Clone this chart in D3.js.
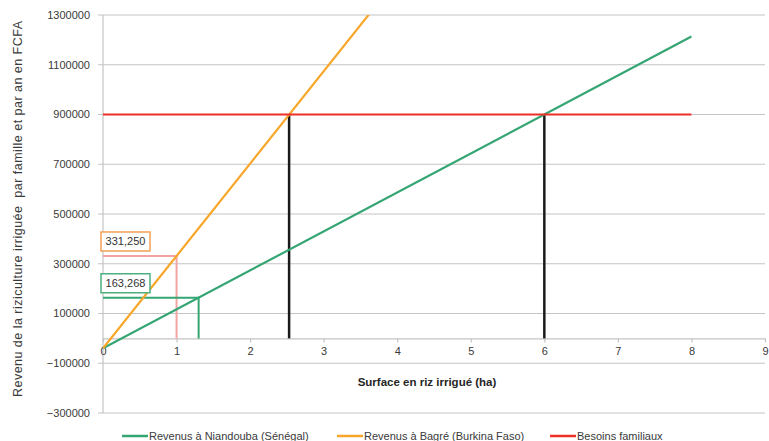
<!DOCTYPE html>
<html><head><meta charset="utf-8">
<script src="https://cdn.jsdelivr.net/npm/d3@7"></script>
<style>
body{margin:0;background:#fff;}
svg{font-family:"Liberation Sans",Arial,sans-serif;}
</style></head>
<body><svg id="c" width="769" height="441"></svg>
<script>
// ---- data ----
const xTicks = [0,1,2,3,4,5,6,7,8,9];
const yTicks = [-300000,-100000,100000,300000,500000,700000,900000,1100000,1300000];
const niandoubaX = [0, 8];
const niandoubaY = [-40000, 1213333];
const bagreX = [0, 4];
const bagreY = [-40000, 1445000];
const besoinsX = [0, 8];
const besoinsY = [900000, 900000];
const crossX = [2.53, 6];          // surfaces where revenue meets needs
const crossY = 900000;
const bagreRef = {x: 1, y: 331250};
const niandoubaRef = {x: 1.3, y: 163268};
const seriesNames = ["Revenus à Niandouba (Sénégal)", "Revenus à Bagré (Burkina Faso)", "Besoins familiaux"];
const yTitle = "Revenu de la riziculture irriguée  par famille et par an en FCFA";
const xTitle = "Surface en riz irrigué (ha)";

// ---- styles ----
const cGreen = "#35a673", cOrange = "#f8a629", cRed = "#ee2f26", cPink = "#f4a3a3", cGrid = "#c4c4c4";

const svg = d3.select("#c");
const x = d3.scaleLinear().domain([0,9]).range([103,765]);
const y = d3.scaleLinear().domain([-300000,1300000]).range([413,15]);

svg.append("defs").append("clipPath").attr("id","plot")
  .append("rect").attr("x",x(0)).attr("y",y(1300000)).attr("width",x(9)-x(0)).attr("height",y(-300000)-y(1300000));

// gridlines
svg.append("g").selectAll("line").data(yTicks).join("line")
  .attr("x1",x(0)-5).attr("x2",x(9)).attr("y1",d=>y(d)).attr("y2",d=>y(d))
  .attr("stroke",cGrid).attr("stroke-width",1.2);
// y axis line
svg.append("line").attr("x1",x(0)).attr("x2",x(0)).attr("y1",y(1300000)).attr("y2",y(-300000))
  .attr("stroke",cGrid).attr("stroke-width",1.2);
// y labels
svg.append("g").selectAll("text").data(yTicks).join("text")
  .attr("x",90).attr("y",d=>y(d)).attr("dy","0.35em").attr("text-anchor","end")
  .attr("font-size",11).attr("fill","#3a3a3a").text(d=>d3.format("d")(d));

// x axis at zero
const xAxis = svg.append("g").attr("transform",`translate(0,${y(0)})`)
  .call(d3.axisBottom(x).tickValues(xTicks).tickFormat(d3.format("d")).tickSizeInner(4).tickSizeOuter(0).tickPadding(5));
xAxis.select(".domain").attr("stroke",cGrid).attr("stroke-width",1.2);
xAxis.selectAll(".tick line").attr("stroke",cGrid).attr("stroke-width",1.2);
xAxis.selectAll(".tick text").attr("font-size",11).attr("fill","#3a3a3a")
  .attr("font-family","Liberation Sans,Arial,sans-serif");

const line = d3.line().x(d=>x(d[0])).y(d=>y(d[1]));
const g = svg.append("g").attr("clip-path","url(#plot)");

// reference lines
g.append("path").attr("d",line([[0,bagreRef.y],[bagreRef.x,bagreRef.y],[bagreRef.x,0]]))
  .attr("fill","none").attr("stroke",cPink).attr("stroke-width",2);
g.append("path").attr("d",line([[0,niandoubaRef.y],[niandoubaRef.x,niandoubaRef.y],[niandoubaRef.x,0]]))
  .attr("fill","none").attr("stroke",cGreen).attr("stroke-width",2);
// black verticals
g.selectAll("line.cross").data(crossX).join("line").attr("class","cross")
  .attr("x1",d=>x(d)).attr("x2",d=>x(d)).attr("y1",y(0)).attr("y2",y(crossY))
  .attr("stroke","#1a1a1a").attr("stroke-width",2.5);

// series
const zip = (a,b)=>a.map((v,i)=>[v,b[i]]);
g.append("path").attr("d",line(zip(niandoubaX,niandoubaY))).attr("fill","none").attr("stroke",cGreen).attr("stroke-width",2.2);
g.append("path").attr("d",line(zip(bagreX,bagreY))).attr("fill","none").attr("stroke",cOrange).attr("stroke-width",2.2);
g.append("path").attr("d",line(zip(besoinsX,besoinsY))).attr("fill","none").attr("stroke",cRed).attr("stroke-width",2.2);

// label boxes
function box(ref, col){
  const bx = x(0)-2, by = y(ref.y)-24, w = 49, h = 19;
  svg.append("rect").attr("x",bx).attr("y",by).attr("width",w).attr("height",h)
    .attr("fill","#fff").attr("stroke",col).attr("stroke-width",1.5);
  svg.append("text").attr("x",bx+w/2).attr("y",by+h/2).attr("dy","0.35em").attr("text-anchor","middle")
    .attr("font-size",11).attr("fill","#333").text(d3.format(",")(ref.y));
}
box(bagreRef, "#f5a055");
box(niandoubaRef, "#4cb07e");

// axis titles
svg.append("text").attr("transform",`translate(22,209) rotate(-90)`).attr("text-anchor","middle")
  .attr("font-size",12.5).attr("textLength",376).attr("lengthAdjust","spacing")
  .attr("fill","#3a3a3a").style("white-space","pre").text(yTitle);
svg.append("text").attr("x",427).attr("y",386).attr("text-anchor","middle")
  .attr("font-size",11.5).attr("font-weight","bold").attr("fill","#262626").text(xTitle);

// legend
const legX = [122, 337, 550];
const legC = [cGreen, cOrange, cRed];
const lg = svg.append("g").selectAll("g").data(seriesNames).join("g")
  .attr("transform",(d,i)=>`translate(${legX[i]},436)`);
lg.append("line").attr("x1",0).attr("x2",26).attr("y1",0).attr("y2",0)
  .attr("stroke",(d,i)=>legC[i]).attr("stroke-width",2.5);
lg.append("text").attr("x",27).attr("y",0).attr("dy","0.35em").attr("font-size",11)
  .attr("fill","#3a3a3a").text(d=>d);
</script></body></html>
